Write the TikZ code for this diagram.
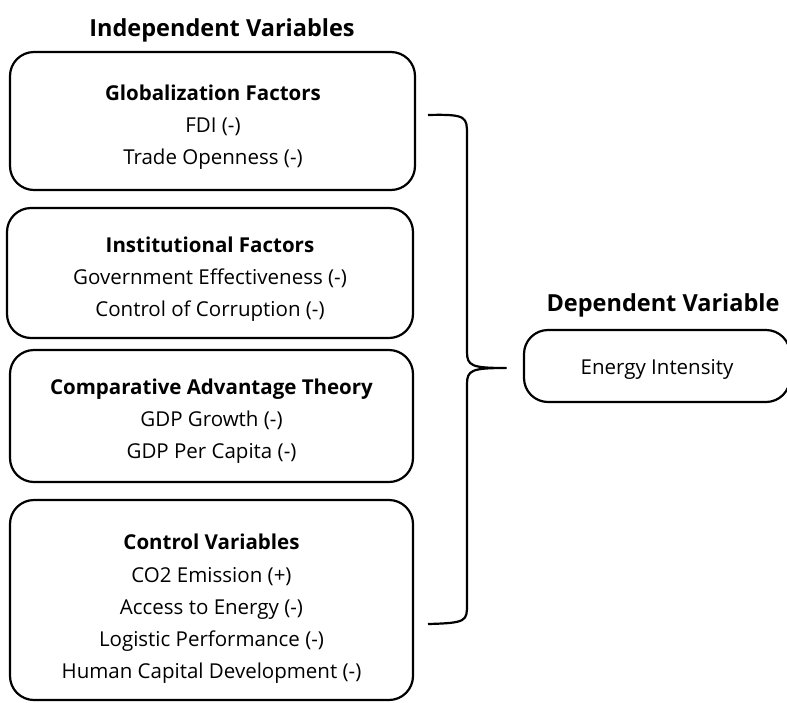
\documentclass[tikz,border=0pt]{standalone}
\usepackage{fontspec}
\setmainfont{Open Sans}
\begin{document}
\begin{tikzpicture}[x=1pt,y=-1pt,
  box/.style={draw, line width=2.2pt, rounded corners=24pt, inner sep=0pt},
  txt/.style={align=center, inner sep=0pt, font=\fontsize{20.5}{32.3}\selectfont},
  heading/.style={font=\fontsize{23.5}{26}\selectfont\bfseries},
  brace/.style={draw, line width=2.2pt, line join=round}]
\useasboundingbox (0,0) rectangle (787,702);
\node[heading] (indep) at (222,30) {Independent Variables};
\node[box, minimum width=405pt, minimum height=138pt] (glob) at (212.5,121) {};
\node[txt] (globt) at (213,127) {\textbf{Globalization Factors}\\FDI (-)\\Trade Openness (-)};
\node[box, minimum width=406pt, minimum height=130pt] (inst) at (210,273) {};
\node[txt] (instt) at (210,279) {\textbf{Institutional Factors}\\Government Effectiveness (-)\\Control of Corruption (-)};
\node[box, minimum width=403pt, minimum height=132pt] (comp) at (211.5,416) {};
\node[txt] (compt) at (211.5,421) {\textbf{Comparative Advantage Theory}\\GDP Growth (-)\\GDP Per Capita (-)};
\node[box, minimum width=403pt, minimum height=200pt] (ctrl) at (211.5,600) {};
\node[txt] (ctrlt) at (211.5,609) {\textbf{Control Variables}\\CO2 Emission (+)\\Access to Energy (-)\\Logistic Performance (-)\\Human Capital Development (-)};
\node[heading] (dephead) at (663,305) {Dependent Variable};
\node[box, minimum width=266pt, minimum height=72pt] (dep) at (657,366) {};
\node[txt] (dept) at (657,369) {Energy Intensity};
\coordinate (btop) at (428,115);
\coordinate (bbot) at (428,624);
\coordinate (btip) at (506,368);
\draw[brace] (btop) .. controls (467,114) and (467,117) .. (467,135) -- (467,352)
  .. controls (467,366) and (472,368) .. (btip)
  .. controls (472,368) and (467,370) .. (467,384) -- (467,604)
  .. controls (467,621) and (467,623) .. (bbot);
\end{tikzpicture}
\end{document}
